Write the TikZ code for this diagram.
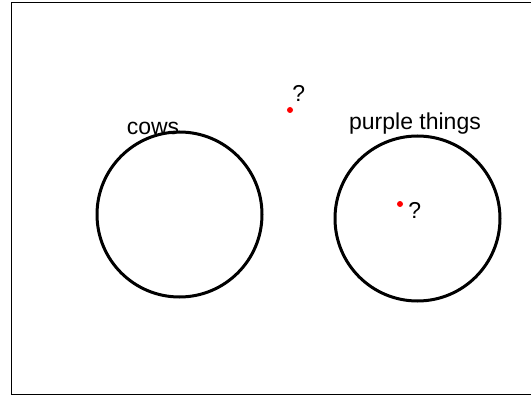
\documentclass[tikz,border=0pt]{standalone}
\usepackage{fontspec}
\setmainfont{Liberation Sans}
\usetikzlibrary{positioning}

\begin{document}
\begin{tikzpicture}[
    x=1pt, y=-1pt,
    every node/.style={font=\fontsize{23}{26}\selectfont},
    setc/.style={circle, draw=black, line width=3pt,
        minimum size=165pt, inner sep=0pt},
    dot/.style={circle, fill=red, inner sep=0pt, minimum size=6pt},
    lbl/.style={inner sep=0pt},
]
    \clip (0,0) rectangle (531,396);

    % Frame
    \draw[line width=1.8pt] (11.5,2.5) rectangle (540,394.5);

    % Sets
    \node[setc] (cows)   at (179.5,214.5) {};
    \node[setc] (purple) at (417.5,218.5) {};

    % Set labels
    \node[lbl] (cowslbl)   at (153,128) {cows};
    \node[lbl] (purplelbl) at (415,124) {purple things};

    % Unknown elements
    \node[dot] (outside) at (290,110) {};
    \node[lbl, above right=6pt and 0pt of outside] (qout) {?};
    \node[dot] (inside)  at (400,204) {};
    \node[lbl, right=5pt of inside, yshift=-6pt] (qin) {?};
\end{tikzpicture}
\end{document}
